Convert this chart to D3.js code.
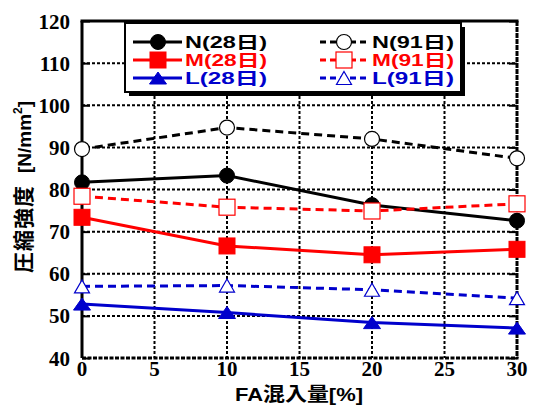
<!DOCTYPE html>
<html>
<head>
<meta charset="utf-8">
<script src="https://cdn.jsdelivr.net/npm/d3@7"></script>
<style>
  html, body { margin: 0; padding: 0; background: #fff; }
  svg { display: block; }
</style>
</head>
<body>
<svg id="chart" width="533" height="407"></svg>
<script>
// FA replacement ratio (%) on the x axis
const faRatio = [0, 10, 20, 30];

// Compressive strength (N/mm2) per mix and curing age
const n28 = [81.7, 83.3, 76.3, 72.6];
const m28 = [73.4, 66.6, 64.5, 65.8];
const l28 = [52.8, 50.8, 48.4, 47.1];
const n91 = [89.6, 94.7, 92.0, 87.4];
const m91 = [78.4, 75.8, 74.9, 76.6];
const l91 = [57.0, 57.2, 56.2, 54.2];

const xTicks = [0, 5, 10, 15, 20, 25, 30];
const yTicks = [40, 50, 60, 70, 80, 90, 100, 110, 120];

const seriesNames = ["N(28日)", "M(28日)", "L(28日)", "N(91日)", "M(91日)", "L(91日)"];

const RED = "#ff0000", BLUE = "#0000cc", BLACK = "#000";

const series = [
  { name: seriesNames[0], values: n28, color: BLACK, dashed: false, shape: "circle", filled: true },
  { name: seriesNames[1], values: m28, color: RED,   dashed: false, shape: "square", filled: true },
  { name: seriesNames[2], values: l28, color: BLUE,  dashed: false, shape: "triangle", filled: true },
  { name: seriesNames[3], values: n91, color: BLACK, dashed: true,  shape: "circle", filled: false },
  { name: seriesNames[4], values: m91, color: RED,   dashed: true,  shape: "square", filled: false },
  { name: seriesNames[5], values: l91, color: BLUE,  dashed: true,  shape: "triangle", filled: false }
];

const svg = d3.select("#chart");
const plot = { left: 82, right: 517, top: 21, bottom: 358 };

const x = d3.scaleLinear().domain([0, 30]).range([plot.left, plot.right]);
const y = d3.scaleLinear().domain([40, 120]).range([plot.bottom, plot.top]);

// Dotted grid
const grid = svg.append("g");
grid.selectAll("line.h").data(yTicks.filter(v => v > 40 && v < 120)).join("line")
  .attr("x1", plot.left).attr("x2", plot.right)
  .attr("y1", d => y(d)).attr("y2", d => y(d))
  .attr("stroke", BLACK).attr("stroke-width", 2).attr("stroke-dasharray", "3,2");
grid.selectAll("line.v").data(xTicks.filter(v => v > 0 && v < 30)).join("line")
  .attr("y1", plot.top).attr("y2", plot.bottom)
  .attr("x1", d => x(d)).attr("x2", d => x(d))
  .attr("stroke", BLACK).attr("stroke-width", 2).attr("stroke-dasharray", "3,2");

// Frame: solid top/left, dense dotted right/bottom
const frame = svg.append("g");
frame.append("line").attr("x1", plot.left - 1.5).attr("x2", plot.right + 1.5)
  .attr("y1", plot.top).attr("y2", plot.top).attr("stroke", BLACK).attr("stroke-width", 3);
frame.append("line").attr("x1", plot.left).attr("x2", plot.left)
  .attr("y1", plot.top).attr("y2", plot.bottom).attr("stroke", BLACK).attr("stroke-width", 3);
frame.append("line").attr("x1", plot.right).attr("x2", plot.right)
  .attr("y1", plot.top).attr("y2", plot.bottom).attr("stroke", BLACK).attr("stroke-width", 3)
  .attr("stroke-dasharray", "5,1");
frame.append("line").attr("x1", plot.left).attr("x2", plot.right + 1.5)
  .attr("y1", plot.bottom).attr("y2", plot.bottom).attr("stroke", BLACK).attr("stroke-width", 3)
  .attr("stroke-dasharray", "4,1.5");

// Inward ticks on the left and right sides
const tickLen = 8;
const yAxisL = d3.axisRight(y).tickValues(yTicks).tickSize(tickLen).tickFormat("");
const yAxisR = d3.axisLeft(y).tickValues(yTicks).tickSize(tickLen).tickFormat("");
[svg.append("g").attr("transform", `translate(${plot.left},0)`).call(yAxisL),
 svg.append("g").attr("transform", `translate(${plot.right},0)`).call(yAxisR)]
  .forEach(g => {
    g.select(".domain").remove();
    g.selectAll(".tick line").attr("stroke", BLACK).attr("stroke-width", 2);
  });

// Tick labels
const labelFont = "'Liberation Serif', 'Times New Roman', serif";
svg.append("g").selectAll("text").data(yTicks).join("text")
  .attr("x", 70).attr("y", d => y(d)).attr("dy", "0.36em")
  .attr("text-anchor", "end")
  .attr("font-family", labelFont).attr("font-weight", "bold").attr("font-size", 21)
  .text(d => d);
svg.append("g").selectAll("text").data(xTicks).join("text")
  .attr("x", d => x(d)).attr("y", 376)
  .attr("text-anchor", "middle")
  .attr("font-family", labelFont).attr("font-weight", "bold").attr("font-size", 21)
  .text(d => d);

// Axis titles
const sansFont = "'Liberation Sans', 'Noto Sans CJK JP', Arial, sans-serif";
svg.append("text")
  .attr("x", 299).attr("y", 401).attr("text-anchor", "middle")
  .attr("font-family", sansFont).attr("font-weight", "bold").attr("font-size", 19)
  .attr("textLength", 128).attr("lengthAdjust", "spacingAndGlyphs")
  .text("FA混入量[%]");

const yTitle = svg.append("text")
  .attr("transform", "translate(31,273) rotate(-90)")
  .attr("font-family", sansFont).attr("font-weight", "bold");
yTitle.append("tspan").attr("font-size", 21)
  .attr("font-family", "'Noto Sans CJK JP', sans-serif").attr("letter-spacing", 1)
  .text("圧縮強度");
yTitle.append("tspan").attr("font-size", 19).attr("dx", 12).text("[N/mm");
yTitle.append("tspan").attr("font-size", 12).attr("dy", -9).text("2");
yTitle.append("tspan").attr("font-size", 19).attr("dy", 9).text("]");

// Marker drawing
function drawMarker(g, s, cx, cy) {
  const fill = s.filled ? s.color : "#fff";
  const sw = s.filled ? 1 : 1.2;
  if (s.shape === "circle") {
    g.append("circle").attr("cx", cx).attr("cy", cy).attr("r", 7.5)
      .attr("fill", fill).attr("stroke", s.color).attr("stroke-width", sw);
  } else if (s.shape === "square") {
    const a = 16;
    g.append("rect").attr("x", cx - a / 2).attr("y", cy - a / 2).attr("width", a).attr("height", a)
      .attr("fill", fill).attr("stroke", s.color).attr("stroke-width", sw);
  } else {
    const w = s.filled ? 17 : 15, h = s.filled ? 12 : 13;
    g.append("path")
      .attr("d", `M${cx},${cy - h / 2}L${cx + w / 2},${cy + h / 2}L${cx - w / 2},${cy + h / 2}Z`)
      .attr("fill", fill).attr("stroke", s.color).attr("stroke-width", sw);
  }
}

// Series lines and markers
const line = d3.line().x(d => x(d[0])).y(d => y(d[1]));
const seriesLayer = svg.append("g");
series.forEach(s => {
  const pts = faRatio.map((f, i) => [f, s.values[i]]);
  const g = seriesLayer.append("g");
  g.append("path").attr("d", line(pts))
    .attr("fill", "none").attr("stroke", s.color).attr("stroke-width", 3)
    .attr("stroke-dasharray", s.dashed ? "8,5" : null);
  pts.forEach(p => drawMarker(g, s, x(p[0]), y(p[1])));
});

// Legend box with drop shadow
const legend = svg.append("g");
const lb = { x: 125, y: 23, w: 336, h: 69 };
legend.append("rect").attr("x", lb.x + 4).attr("y", lb.y + 4).attr("width", lb.w).attr("height", lb.h)
  .attr("fill", BLACK);
legend.append("rect").attr("x", lb.x).attr("y", lb.y).attr("width", lb.w).attr("height", lb.h)
  .attr("fill", "#fff").attr("stroke", BLACK).attr("stroke-width", 2);

const rowY = [42, 60, 78];
const cols = [
  { x1: 133, x2: 182, mx: 158, tx: 185 },
  { x1: 320, x2: 368, mx: 344, tx: 372 }
];
series.forEach((s, i) => {
  const c = cols[Math.floor(i / 3)];
  const ry = rowY[i % 3];
  const g = legend.append("g");
  g.append("line").attr("x1", c.x1).attr("x2", c.x2).attr("y1", ry).attr("y2", ry)
    .attr("stroke", s.color).attr("stroke-width", 3)
    .attr("stroke-dasharray", s.dashed ? "6,4" : null);
  drawMarker(g, s, c.mx, ry);
  g.append("text").attr("x", c.tx).attr("y", ry + 6)
    .attr("font-family", sansFont).attr("font-weight", "bold").attr("font-size", 16)
    .attr("textLength", 82).attr("lengthAdjust", "spacingAndGlyphs")
    .attr("fill", s.color).text(s.name);
});
</script>
</body>
</html>
